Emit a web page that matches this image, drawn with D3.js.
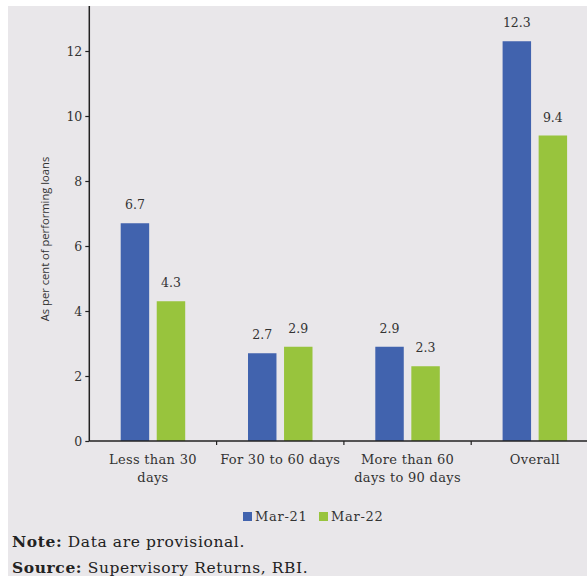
<!DOCTYPE html>
<html><head><meta charset="utf-8">
<script src="https://cdn.jsdelivr.net/npm/d3@7"></script>
<style>html,body{margin:0;padding:0;background:#fff;}svg{display:block;}</style>
</head><body>
<script>
const categories = [["Less than 30","days"],["For 30 to 60 days"],["More than 60","days to 90 days"],["Overall"]];
const seriesNames = ["Mar-21","Mar-22"];
const mar21 = [6.7, 2.7, 2.9, 12.3];
const mar22 = [4.3, 2.9, 2.3, 9.4];
const yTicks = [0,2,4,6,8,10,12];
const colors = ["#4163ae","#98c43d"];

const W=587,H=576;
const svg=d3.select("body").append("svg").attr("width",W).attr("height",H);
svg.append("rect").attr("x",8).attr("y",6).attr("width",W-8).attr("height",H-6).attr("fill","#e9e7ea");

const catKeys=categories.map(c=>c.join(" "));
const x0=d3.scaleBand().domain(catKeys).range([89.3,89.3+4*127.3]).padding(0);
const x1=d3.scaleBand().domain(seriesNames).range([31.4,95.9]).paddingInner(0.21).paddingOuter(0);
const y=d3.scaleLinear().domain([0,12]).range([441,51]);
const yTop=6;

const data=catKeys.map((k,i)=>({k,vals:[mar21[i],mar22[i]]}));
const g=svg.append("g");
const grp=g.selectAll("g.cat").data(data).enter().append("g").attr("transform",d=>`translate(${x0(d.k)},0)`);
grp.selectAll("rect").data(d=>d.vals.map((v,j)=>({v,s:seriesNames[j],j}))).enter().append("rect")
 .attr("x",d=>x1(d.s)).attr("width",x1.bandwidth())
 .attr("y",d=>y(d.v)).attr("height",d=>y(0)-y(d.v))
 .attr("fill",d=>colors[d.j]);
grp.selectAll("text.val").data(d=>d.vals.map((v,j)=>({v,s:seriesNames[j],j}))).enter().append("text")
 .attr("x",d=>x1(d.s)+x1.bandwidth()/2).attr("y",d=>y(d.v)-14)
 .attr("text-anchor","middle").attr("font-family","DejaVu Serif").attr("font-size","12.5px").attr("fill","#333")
 .text(d=>d.v.toFixed(1));

// y axis
const yAxis=d3.axisLeft(y).tickValues(yTicks).tickSize(4).tickSizeOuter(0).tickPadding(3);
const ya=svg.append("g").attr("transform","translate(89.3,0)").call(yAxis);
ya.select(".domain").remove();
ya.append("line").attr("x1",0).attr("x2",0).attr("y1",yTop).attr("y2",441).attr("stroke","#222").attr("stroke-width",1.5);
ya.selectAll(".tick line").attr("stroke","#222").attr("stroke-width",1.2);
ya.selectAll(".tick text").attr("font-family","DejaVu Serif").attr("font-size","12.5px").attr("fill","#333");

// x axis
const xAxis=d3.axisBottom(x0).tickSize(0).tickFormat(()=> "");
const xa=svg.append("g").attr("transform","translate(0,441)").call(xAxis);
xa.select(".domain").remove();
xa.append("line").attr("x1",89.3).attr("x2",W).attr("y1",0).attr("y2",0).attr("stroke","#222").attr("stroke-width",1.5);
const bnds=catKeys.slice(1).map(k=>x0(k));
xa.selectAll("line.sep").data(bnds).enter().append("line").attr("class","sep")
 .attr("x1",d=>d).attr("x2",d=>d).attr("y1",0).attr("y2",4).attr("stroke","#222").attr("stroke-width",1.2);
xa.selectAll("text.cl").data(categories).enter().append("text").attr("class","cl")
 .attr("x",(d,i)=>x0(catKeys[i])+x0.bandwidth()/2).attr("y",23)
 .attr("text-anchor","middle").attr("font-family","DejaVu Serif").attr("font-size","13px").attr("letter-spacing","0.3px").attr("fill","#333")
 .each(function(d){const t=d3.select(this);d.forEach((line,li)=>t.append("tspan").attr("x",t.attr("x")).attr("dy",li?18:0).text(line));});

// y title
svg.append("text").attr("transform","translate(49,239) rotate(-90)").attr("text-anchor","middle")
 .attr("font-family","Open Sans").attr("font-size","11.2px").attr("fill","#333").text("As per cent of performing loans");

// legend
const legX=[243,319];
const leg=svg.append("g");
seriesNames.forEach((s,i)=>{
  leg.append("rect").attr("x",legX[i]).attr("y",512).attr("width",9).attr("height",9).attr("fill",colors[i]);
  leg.append("text").attr("x",legX[i]+12).attr("y",521).attr("font-family","DejaVu Serif").attr("font-size","13px").attr("letter-spacing","0.7px").attr("fill","#333").text(s);
});

// notes
const n1=svg.append("text").attr("x",12).attr("y",547).attr("font-family","DejaVu Serif").attr("font-size","15.5px").attr("letter-spacing","0.6px").attr("fill","#222");
n1.append("tspan").attr("font-weight","bold").text("Note:");
n1.append("tspan").text(" Data are provisional.");
const n2=svg.append("text").attr("x",12).attr("y",573).attr("font-family","DejaVu Serif").attr("font-size","15.5px").attr("letter-spacing","0.6px").attr("fill","#222");
n2.append("tspan").attr("font-weight","bold").text("Source:");
n2.append("tspan").text(" Supervisory Returns, RBI.");
</script>
</body></html>
